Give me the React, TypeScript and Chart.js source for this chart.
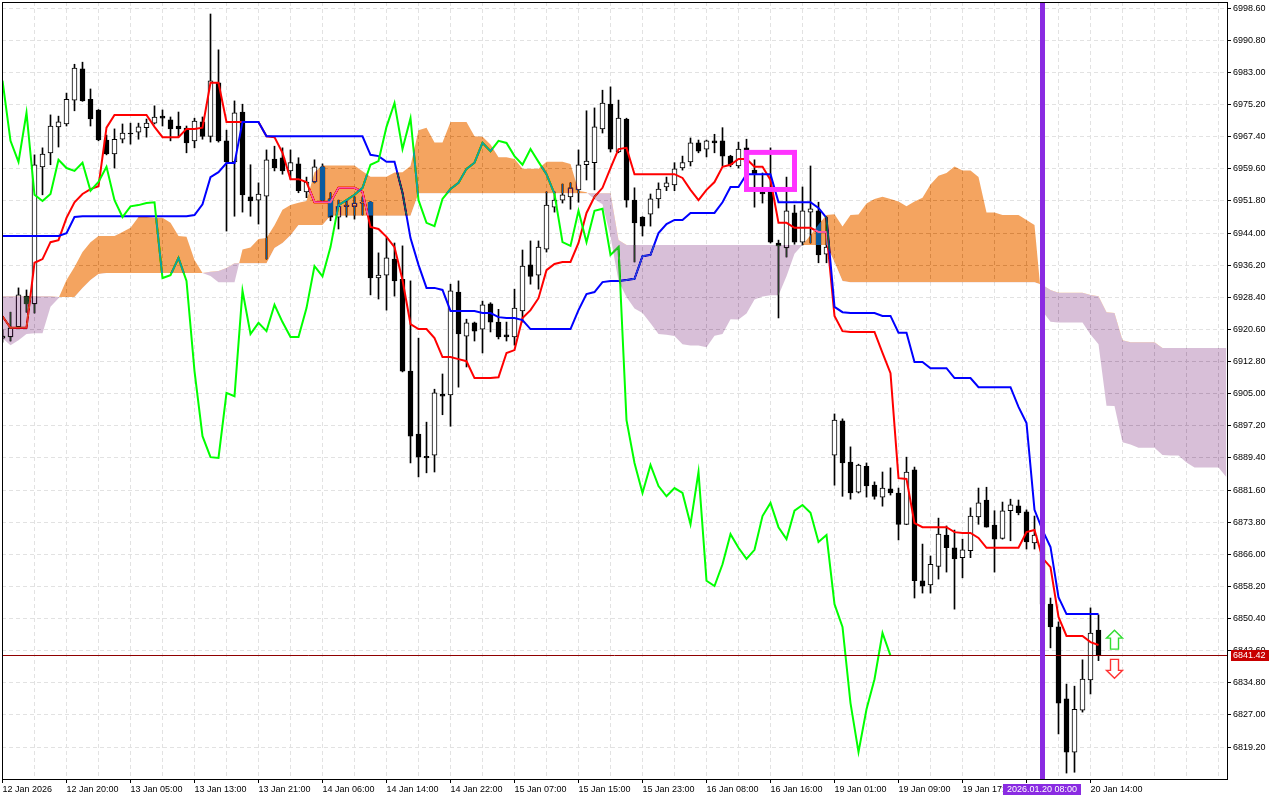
import React, { useEffect, useRef } from "react";
import { Chart, registerables } from "chart.js";

Chart.register(...registerables);

const opens = [
  6918.5, 6918.8, 6921.2, 6928.7, 6926.8, 6960.1, 6963.5, 6969.8, 6970.5, 6976.3,
  6983.9, 6976.5, 6973.9, 6966.6, 6963.2, 6966.8, 6968.3, 6968.5, 6969.6, 6970.7,
  6972.4, 6971.5, 6970.0, 6969.5, 6966.4, 6971.0, 6967.5, 6980.5, 6966.4, 6961.3,
  6973.4, 6952.8, 6952.0, 6953.0, 6962.0, 6962.3, 6959.1, 6960.8, 6954.0, 6956.4,
  6960.1, 6952.3, 6947.9, 6950.5, 6950.5, 6951.3, 6951.5, 6933.1, 6933.8, 6937.7,
  6932.8, 6910.5, 6895.2, 6889.8, 6890.1, 6904.9, 6904.7, 6929.7, 6919.0, 6922.2,
  6920.7, 6926.8, 6922.4, 6919.3, 6918.8, 6925.1, 6936.3, 6933.8, 6940.1, 6950.3,
  6952.0, 6952.8, 6954.5, 6960.6, 6961.1, 6969.3, 6975.3, 6963.7, 6971.7, 6952.0,
  6947.9, 6948.6, 6952.3, 6955.2, 6955.7, 6959.8, 6961.3, 6965.9, 6964.4, 6966.4,
  6966.4, 6962.7, 6960.3, 6964.7, 6959.3, 6954.0, 6954.5, 6941.6, 6940.4, 6948.9,
  6941.8, 6949.1, 6949.4, 6938.9, 6890.1, 6898.4, 6888.4, 6881.1, 6887.4, 6882.8,
  6879.9, 6881.9, 6880.9, 6873.3, 6886.5, 6859.6, 6858.6, 6863.1, 6870.7, 6867.6,
  6865.2, 6866.9, 6875.1, 6879.2, 6873.1, 6869.9, 6876.6, 6877.8, 6876.3, 6868.8,
  6868.8, 6853.9, 6848.4, 6830.9, 6818.0, 6828.2, 6835.5, 6847.6,
];

const highs = [
  6920.5, 6924.8, 6930.7, 6930.2, 6963.0, 6964.7, 6972.7, 6972.4, 6978.0, 6985.0,
  6985.5, 6979.0, 6974.0, 6967.8, 6969.3, 6970.5, 6970.7, 6970.7, 6971.7, 6974.9,
  6973.9, 6972.2, 6973.4, 6970.0, 6971.9, 6972.2, 6997.2, 6988.5, 6969.0, 6976.1,
  6975.3, 6960.6, 6956.2, 6964.2, 6965.1, 6964.7, 6964.2, 6962.3, 6957.6, 6961.8,
  6960.8, 6953.8, 6952.0, 6951.8, 6952.8, 6952.8, 6951.7, 6939.2, 6942.9, 6941.6,
  6940.9, 6932.4, 6918.5, 6898.1, 6906.1, 6909.8, 6931.6, 6932.4, 6923.1, 6922.4,
  6927.5, 6927.1, 6925.5, 6922.4, 6930.4, 6939.9, 6942.1, 6942.1, 6954.0, 6954.0,
  6955.9, 6956.2, 6964.2, 6973.7, 6974.4, 6978.7, 6979.5, 6976.3, 6971.9, 6955.0,
  6948.0, 6953.5, 6956.2, 6957.6, 6961.1, 6962.7, 6967.1, 6966.6, 6966.6, 6968.0,
  6969.6, 6962.9, 6966.1, 6966.8, 6961.8, 6958.6, 6964.7, 6942.3, 6957.6, 6950.8,
  6955.2, 6960.3, 6951.5, 6947.9, 6900.1, 6898.9, 6892.1, 6887.9, 6888.2, 6883.6,
  6886.0, 6887.0, 6882.1, 6889.6, 6887.2, 6868.5, 6865.6, 6874.8, 6872.9, 6871.9,
  6869.7, 6877.3, 6882.1, 6882.3, 6876.6, 6878.7, 6879.4, 6879.2, 6876.8, 6875.3,
  6870.0, 6855.4, 6849.6, 6834.5, 6834.0, 6840.4, 6853.0, 6851.3,
];

const lows = [
  6917.5, 6917.8, 6921.0, 6924.8, 6924.6, 6953.3, 6960.6, 6964.9, 6970.0, 6973.7,
  6976.0, 6970.0, 6966.4, 6963.0, 6959.8, 6965.9, 6965.6, 6966.8, 6967.3, 6970.5,
  6970.0, 6966.4, 6967.3, 6963.5, 6964.7, 6966.8, 6966.1, 6966.1, 6944.5, 6948.1,
  6949.1, 6948.1, 6946.2, 6937.7, 6959.1, 6958.3, 6957.1, 6953.8, 6952.6, 6956.2,
  6951.8, 6947.0, 6945.0, 6947.9, 6947.4, 6948.4, 6929.0, 6928.0, 6925.3, 6928.7,
  6910.3, 6888.2, 6884.8, 6885.8, 6886.0, 6899.9, 6897.1, 6906.6, 6911.5, 6917.8,
  6914.9, 6920.0, 6918.3, 6917.8, 6916.8, 6922.4, 6931.6, 6930.4, 6939.4, 6949.1,
  6951.3, 6949.8, 6951.5, 6956.9, 6954.5, 6968.3, 6963.7, 6963.5, 6950.3, 6937.0,
  6943.3, 6945.7, 6950.1, 6954.3, 6954.3, 6959.3, 6960.3, 6963.5, 6962.5, 6963.5,
  6960.3, 6960.1, 6959.8, 6961.1, 6950.3, 6951.3, 6941.6, 6923.4, 6938.2, 6941.3,
  6941.1, 6941.6, 6936.8, 6936.8, 6882.8, 6880.1, 6879.4, 6880.9, 6879.9, 6879.4,
  6877.7, 6880.4, 6869.5, 6873.2, 6855.4, 6856.6, 6856.6, 6860.0, 6861.7, 6852.7,
  6860.3, 6865.2, 6873.3, 6872.6, 6861.7, 6869.7, 6869.3, 6875.6, 6867.3, 6867.3,
  6853.5, 6843.3, 6822.4, 6812.9, 6813.1, 6827.7, 6832.1, 6840.2,
];

const closes = [
  6919.0, 6921.0, 6929.0, 6926.8, 6960.6, 6963.2, 6970.0, 6971.0, 6976.5, 6984.1,
  6976.1, 6971.7, 6966.6, 6963.2, 6966.8, 6968.3, 6968.1, 6969.8, 6970.7, 6972.2,
  6971.9, 6969.3, 6969.3, 6965.9, 6971.2, 6967.5, 6981.0, 6966.4, 6961.3, 6973.2,
  6953.3, 6951.8, 6953.5, 6961.8, 6959.8, 6959.1, 6961.1, 6954.3, 6956.4, 6960.1,
  6952.0, 6947.9, 6950.5, 6950.8, 6951.3, 6951.5, 6933.1, 6933.8, 6938.0, 6932.4,
  6910.5, 6894.7, 6889.6, 6889.4, 6905.2, 6904.4, 6930.0, 6919.5, 6922.2, 6920.2,
  6926.6, 6922.4, 6918.8, 6918.8, 6925.8, 6936.0, 6933.5, 6940.6, 6950.8, 6952.0,
  6953.3, 6955.0, 6960.6, 6961.5, 6969.8, 6975.6, 6964.4, 6971.9, 6952.0, 6946.5,
  6945.7, 6952.3, 6954.7, 6956.2, 6959.6, 6961.1, 6965.9, 6963.9, 6966.4, 6965.9,
  6962.7, 6960.6, 6964.4, 6961.3, 6958.3, 6953.5, 6941.8, 6940.9, 6949.4, 6941.8,
  6949.4, 6949.9, 6938.7, 6940.6, 6898.6, 6888.2, 6880.9, 6887.7, 6882.6, 6880.1,
  6882.1, 6880.9, 6873.3, 6886.0, 6859.6, 6858.3, 6863.6, 6870.9, 6867.6, 6864.9,
  6867.1, 6875.3, 6878.5, 6872.6, 6869.7, 6876.6, 6878.0, 6876.1, 6869.0, 6870.7,
  6853.9, 6848.4, 6829.9, 6818.0, 6828.4, 6835.7, 6846.9, 6841.42,
];

const tenkan = [
  6923.8, 6921.0, 6921.0, 6921.0, 6936.8, 6937.7, 6941.8, 6942.3, 6947.7, 6951.5,
  6953.5, 6954.7, 6955.4, 6969.6, 6972.7, 6972.7, 6972.7, 6972.7, 6972.7, 6969.8,
  6967.3, 6967.3, 6967.3, 6969.3, 6969.3, 6969.6, 6980.5, 6980.5, 6971.0, 6971.0,
  6971.0, 6971.0, 6971.0, 6967.5, 6967.3, 6963.5, 6957.1, 6957.1, 6956.4, 6951.5,
  6951.5, 6951.5, 6955.0, 6955.0, 6955.0, 6954.0, 6945.5, 6945.0, 6943.1, 6940.6,
  6932.6, 6921.9, 6920.7, 6920.7, 6918.5, 6913.9, 6913.9, 6913.4, 6912.9, 6908.8,
  6908.8, 6908.8, 6909.0, 6914.9, 6915.6, 6923.4, 6925.3, 6928.2, 6935.0, 6936.5,
  6937.0, 6937.0, 6941.6, 6948.9, 6952.8, 6955.0, 6959.8, 6964.4, 6964.7, 6958.3,
  6958.3, 6958.3, 6958.3, 6958.3, 6958.3, 6957.4, 6954.5, 6952.0, 6954.5, 6956.4,
  6960.1, 6960.6, 6962.0, 6962.0, 6960.1, 6960.1, 6956.9, 6946.5, 6946.5, 6945.3,
  6945.3, 6945.3, 6944.3, 6944.3, 6923.9, 6920.2, 6920.0, 6920.0, 6920.0, 6920.0,
  6914.9, 6910.0, 6884.5, 6884.3, 6873.6, 6872.6, 6872.6, 6872.6, 6872.6, 6871.4,
  6871.2, 6871.2, 6870.0, 6867.6, 6867.6, 6867.6, 6867.6, 6867.6, 6871.4, 6871.9,
  6865.1, 6862.9, 6850.8, 6846.2, 6846.2, 6846.2, 6844.7, 6844.0,
];

const kijun = [
  6943.3, 6943.3, 6943.3, 6943.3, 6943.3, 6943.3, 6943.3, 6943.3, 6944.0, 6947.9,
  6948.1, 6948.1, 6948.1, 6948.1, 6948.1, 6948.1, 6948.1, 6948.1, 6948.1, 6948.1,
  6948.1, 6948.1, 6948.1, 6948.1, 6948.4, 6951.0, 6957.6, 6958.8, 6961.0, 6961.0,
  6971.0, 6971.0, 6971.0, 6967.5, 6967.5, 6967.5, 6967.5, 6967.5, 6967.5, 6967.5,
  6967.5, 6967.5, 6967.5, 6967.5, 6967.5, 6967.5, 6963.0, 6962.7, 6961.3, 6961.3,
  6953.8, 6942.8, 6936.3, 6930.7, 6930.7, 6930.2, 6925.1, 6925.1, 6925.1, 6925.1,
  6924.6, 6924.6, 6923.6, 6923.4, 6923.4, 6922.9, 6920.7, 6920.7, 6920.7, 6920.7,
  6920.7, 6920.7, 6925.3, 6929.2, 6929.7, 6932.1, 6932.4, 6932.4, 6932.6, 6932.9,
  6938.4, 6938.7, 6944.0, 6946.2, 6947.2, 6947.2, 6948.9, 6948.9, 6948.9, 6948.9,
  6951.5, 6955.2, 6955.2, 6958.3, 6958.3, 6958.3, 6958.3, 6951.5, 6951.5, 6951.5,
  6951.5, 6951.5, 6950.1, 6947.7, 6926.1, 6924.8, 6924.6, 6924.6, 6924.6, 6924.6,
  6923.9, 6923.9, 6919.8, 6919.8, 6912.7, 6912.7, 6911.2, 6911.2, 6911.2, 6908.8,
  6908.8, 6908.8, 6906.6, 6906.6, 6906.6, 6906.6, 6906.6, 6901.8, 6897.9, 6876.8,
  6871.9, 6867.8, 6855.6, 6851.5, 6851.5, 6851.5, 6851.5, 6851.5,
];

const chikou = [
  6981.0, 6966.4, 6961.3, 6973.2,
  6953.3, 6951.8, 6953.5, 6961.8, 6959.8, 6959.1, 6961.1, 6954.3, 6956.4, 6960.1,
  6952.0, 6947.9, 6950.5, 6950.8, 6951.3, 6951.5, 6933.1, 6933.8, 6938.0, 6932.4,
  6910.5, 6894.7, 6889.6, 6889.4, 6905.2, 6904.4, 6930.0, 6919.5, 6922.2, 6920.2,
  6926.6, 6922.4, 6918.8, 6918.8, 6925.8, 6936.0, 6933.5, 6940.6, 6950.8, 6952.0,
  6953.3, 6955.0, 6960.6, 6961.5, 6969.8, 6975.6, 6964.4, 6971.9, 6952.0, 6946.5,
  6945.7, 6952.3, 6954.7, 6956.2, 6959.6, 6961.1, 6965.9, 6963.9, 6966.4, 6965.9,
  6962.7, 6960.6, 6964.4, 6961.3, 6958.3, 6953.5, 6941.8, 6940.9, 6949.4, 6941.8,
  6949.4, 6949.9, 6938.7, 6940.6, 6898.6, 6888.2, 6880.9, 6887.7, 6882.6, 6880.1,
  6882.1, 6880.9, 6873.3, 6886.0, 6859.6, 6858.3, 6863.6, 6870.9, 6867.6, 6864.9,
  6867.1, 6875.3, 6878.5, 6872.6, 6869.7, 6876.6, 6878.0, 6876.1, 6869.0, 6870.7,
  6853.9, 6848.4, 6829.9, 6818.0, 6828.4, 6835.7, 6846.9, 6841.42,
];

const senkouA = [
  6918.5, 6916.8, 6918.0, 6919.5, 6919.7, 6919.7, 6926.1, 6928.2, 6932.6, 6935.8,
  6939.4, 6941.8, 6943.3, 6943.3, 6943.3, 6944.3, 6945.3, 6947.9, 6947.9, 6947.7,
  6947.7, 6946.5, 6943.3, 6943.1, 6937.5, 6934.3, 6933.6, 6932.1, 6932.1, 6932.1,
  6940.0, 6940.5, 6942.6, 6942.8, 6945.9, 6949.7, 6950.8, 6951.4, 6951.8, 6958.8,
  6960.4, 6960.4, 6960.4, 6960.4, 6960.4, 6959.0, 6957.7, 6957.7, 6957.7, 6958.7,
  6958.8, 6960.3, 6969.0, 6969.6, 6966.0, 6966.0, 6971.0, 6971.0, 6971.0, 6967.5,
  6967.4, 6965.5, 6962.4, 6962.4, 6962.0, 6959.6, 6959.6, 6959.6, 6961.3, 6961.3,
  6961.3, 6960.8, 6954.3, 6953.9, 6952.2, 6951.0, 6943.2, 6932.4, 6928.5, 6925.7,
  6924.6, 6922.1, 6919.5, 6919.3, 6919.0, 6917.0, 6916.7, 6916.7, 6916.3, 6919.1,
  6919.5, 6923.1, 6923.0, 6924.5, 6927.9, 6928.6, 6928.9, 6928.9, 6933.5, 6939.0,
  6941.2, 6943.5, 6946.1, 6948.4, 6948.6, 6945.6, 6948.4, 6948.5, 6951.2, 6952.3,
  6952.8, 6952.3, 6951.7, 6950.5, 6951.7, 6952.6, 6955.8, 6957.9, 6958.6, 6960.2,
  6959.2, 6959.2, 6957.6, 6949.0, 6949.0, 6948.4, 6948.4, 6948.4, 6947.2, 6946.0,
  6925.0, 6922.5, 6922.3, 6922.3, 6922.3, 6922.3, 6919.4, 6917.0, 6902.1, 6902.0,
  6893.2, 6892.7, 6891.9, 6891.9, 6891.9, 6890.1, 6890.0, 6890.0, 6888.3, 6887.1,
  6887.1, 6887.1, 6887.1, 6884.7,
];

const senkouB = [
  6928.7, 6928.7, 6928.7, 6928.7, 6928.7, 6928.7, 6928.7, 6928.5, 6928.5, 6928.5,
  6930.7, 6932.6, 6934.1, 6934.3, 6934.3, 6934.3, 6934.3, 6934.3, 6934.3, 6934.3,
  6934.3, 6934.3, 6934.3, 6934.3, 6934.3, 6934.3, 6934.6, 6934.8, 6935.5, 6936.7,
  6936.7, 6936.7, 6936.7, 6936.7, 6940.4, 6941.6, 6943.5, 6946.0, 6946.0, 6946.0,
  6946.0, 6948.2, 6948.2, 6948.2, 6948.2, 6948.2, 6948.2, 6948.2, 6948.2, 6948.2,
  6948.2, 6948.2, 6953.7, 6953.7, 6953.7, 6953.7, 6953.7, 6953.7, 6953.7, 6953.7,
  6953.7, 6953.7, 6953.7, 6953.7, 6953.7, 6953.7, 6953.7, 6953.7, 6953.7, 6953.7,
  6953.7, 6953.7, 6953.7, 6953.7, 6953.7, 6953.7, 6953.7, 6942.3, 6941.1, 6941.1,
  6941.1, 6941.1, 6941.1, 6941.1, 6941.1, 6941.1, 6941.1, 6941.1, 6941.1, 6941.1,
  6941.1, 6941.1, 6941.1, 6941.1, 6941.1, 6941.1, 6941.1, 6941.1, 6941.1, 6941.1,
  6941.1, 6941.1, 6941.1, 6941.1, 6937.0, 6932.4, 6932.1, 6932.1, 6932.1, 6932.1,
  6932.1, 6932.1, 6932.1, 6932.1, 6932.1, 6932.1, 6932.1, 6932.1, 6932.1, 6932.1,
  6932.1, 6932.1, 6932.1, 6932.1, 6932.1, 6932.1, 6932.1, 6932.1, 6932.1, 6932.1,
  6931.4, 6930.2, 6929.5, 6929.5, 6929.5, 6929.5, 6929.0, 6928.7, 6924.8, 6924.6,
  6918.0, 6917.5, 6917.5, 6917.5, 6917.5, 6916.1, 6916.1, 6916.1, 6916.1, 6916.1,
  6916.1, 6916.1, 6916.1, 6916.1,
];

const priceTicks = [
  6998.6, 6990.8, 6983.0, 6975.2, 6967.4, 6959.6, 6951.8, 6944.0, 6936.2, 6928.4, 6920.6, 6912.8,
  6905.0, 6897.2, 6889.4, 6881.6, 6873.8, 6866.0, 6858.2, 6850.4, 6842.6, 6834.8, 6827.0, 6819.2,
];

const timeTickIndex = [0, 8, 16, 24, 32, 40, 48, 56, 64, 72, 80, 88, 96, 104, 112, 120, 128, 136];
const timeTickLabels = [
  "12 Jan 2026", "12 Jan 20:00", "13 Jan 05:00", "13 Jan 13:00", "13 Jan 21:00", "14 Jan 06:00",
  "14 Jan 14:00", "14 Jan 22:00", "15 Jan 07:00", "15 Jan 15:00", "15 Jan 23:00", "16 Jan 08:00",
  "16 Jan 16:00", "19 Jan 01:00", "19 Jan 09:00", "19 Jan 17:00", "", "20 Jan 14:00",
];

const lastPrice = 6841.42;
const markerIndex = 130;
const markerLabel = "2026.01.20 08:00";
const boxStart = 93;
const boxEnd = 99;
const boxHigh = 6963.6;
const boxLow = 6954.6;
const arrowIndex = 139;
const upArrowPrice = 6847.6;
const downArrowPrice = 6835.9;

const FONT_FAMILY = "'Liberation Sans', sans-serif";
const FONT_SIZE = 9;
const FONT = `${FONT_SIZE}px ${FONT_FAMILY}`;

const points = (values: number[], start = 0) => values.map((y, i) => ({ x: i + start, y }));

const drawArrow = (ctx: CanvasRenderingContext2D, x: number, y: number, dir: number, color: string) => {
  // y is the tip, dir = 1 points up, -1 points down
  ctx.beginPath();
  ctx.moveTo(x, y);
  ctx.lineTo(x + 8, y + dir * 8);
  ctx.lineTo(x + 4, y + dir * 8);
  ctx.lineTo(x + 4, y + dir * 19);
  ctx.lineTo(x - 4, y + dir * 19);
  ctx.lineTo(x - 4, y + dir * 8);
  ctx.lineTo(x - 8, y + dir * 8);
  ctx.closePath();
  ctx.fillStyle = "#ffffff";
  ctx.fill();
  ctx.lineWidth = 1.4;
  ctx.strokeStyle = color;
  ctx.stroke();
};

const overlayPlugin = {
  id: "overlay",
  beforeDraw(chart: any) {
    // difference blending needs an opaque page under it
    chart.ctx.save();
    chart.ctx.fillStyle = "#ffffff";
    chart.ctx.fillRect(0, 0, chart.width, chart.height);
    chart.ctx.restore();
  },
  afterDatasetDraw(chart: any, args: any) {
    // the cloud is an XOR style fill in the terminal, so it goes over everything below it
    if (chart.data.datasets[args.index].label === "Chikou") {
      chart.ctx.globalCompositeOperation = "difference";
    }
  },
  afterDatasetsDraw(chart: any) {
    const ctx = chart.ctx;
    ctx.globalCompositeOperation = "source-over";
    const { x, y } = chart.scales;
    const area = chart.chartArea;

    ctx.save();
    const priceY = Math.floor(y.getPixelForValue(lastPrice)) + 0.5;
    ctx.strokeStyle = "#900000";
    ctx.lineWidth = 1;
    ctx.beginPath();
    ctx.moveTo(area.left, priceY);
    ctx.lineTo(area.right, priceY);
    ctx.stroke();

    const markerX = x.getPixelForValue(markerIndex);
    ctx.fillStyle = "#8a2be2";
    ctx.fillRect(markerX - 2.5, area.top, 5, area.bottom - area.top);

    const bx1 = x.getPixelForValue(boxStart);
    const bx2 = x.getPixelForValue(boxEnd);
    const by1 = y.getPixelForValue(boxHigh);
    const by2 = y.getPixelForValue(boxLow);
    ctx.strokeStyle = "#ff33ff";
    ctx.lineWidth = 5;
    ctx.strokeRect(bx1, by1, bx2 - bx1, by2 - by1);

    const arrowX = x.getPixelForValue(arrowIndex);
    drawArrow(ctx, arrowX, y.getPixelForValue(upArrowPrice), 1, "#33dd33");
    drawArrow(ctx, arrowX, y.getPixelForValue(downArrowPrice), -1, "#ff3333");
    ctx.restore();
  },
  afterDraw(chart: any) {
    const ctx = chart.ctx;
    const { x, y } = chart.scales;
    const area = chart.chartArea;
    ctx.save();
    ctx.strokeStyle = "#000000";
    ctx.lineWidth = 1;
    ctx.strokeRect(area.left + 0.5, area.top + 0.5, area.right - area.left, area.bottom - area.top);

    ctx.font = FONT;
    ctx.textBaseline = "middle";

    // current price tag on the axis
    const priceY = Math.floor(y.getPixelForValue(lastPrice)) + 0.5;
    ctx.fillStyle = "#c80000";
    ctx.fillRect(area.right + 4, priceY - 5.5, 38, 11);
    ctx.fillStyle = "#ffffff";
    ctx.textAlign = "left";
    ctx.fillText(lastPrice.toFixed(2), area.right + 6, priceY + 0.5);

    // marker date tag on the time axis
    const markerX = x.getPixelForValue(markerIndex);
    ctx.fillStyle = "#8a2be2";
    ctx.fillRect(markerX - 39.5, area.bottom + 5, 78, 11);
    ctx.fillStyle = "#ffffff";
    ctx.textAlign = "center";
    ctx.fillText(markerLabel, markerX - 0.5, area.bottom + 11);
    ctx.restore();
  },
};

const App: React.FC = () => {
  const chartRef = useRef<HTMLCanvasElement>(null);

  useEffect(() => {
    if (!chartRef.current) return;
    const chart = new Chart(chartRef.current, {
      type: "bar",
      data: {
        datasets: [
          {
            label: "Wicks",
            data: lows.map((low, i) => ({ x: i, y: [low, highs[i]] })),
            backgroundColor: "#000000",
            barThickness: 1,
            grouped: false,
            order: 7,
          },
          {
            label: "Bodies",
            data: opens.map((open, i) => ({ x: i, y: [open, closes[i]] })),
            backgroundColor: opens.map((open, i) => (closes[i] >= open ? "#ffffff" : "#000000")),
            borderColor: "#000000",
            borderWidth: 1,
            borderSkipped: false,
            barThickness: 5,
            grouped: false,
            order: 6,
          },
          {
            type: "line",
            label: "Tenkan",
            data: points(tenkan),
            borderColor: "#ff0000",
            borderWidth: 2,
            pointRadius: 0,
            tension: 0,
            order: 5,
          },
          {
            type: "line",
            label: "Kijun",
            data: points(kijun),
            borderColor: "#0000ff",
            borderWidth: 2,
            pointRadius: 0,
            tension: 0,
            order: 4,
          },
          {
            type: "line",
            label: "Chikou",
            data: points(chikou),
            borderColor: "#00ff00",
            borderWidth: 2,
            pointRadius: 0,
            tension: 0,
            order: 3,
          },
          {
            type: "line",
            label: "Senkou A",
            data: points(senkouA),
            borderColor: "transparent",
            borderWidth: 0,
            pointRadius: 0,
            tension: 0,
            fill: { target: "+1", above: "#0b5b9f", below: "#274027" },
            order: 2,
          },
          {
            type: "line",
            label: "Senkou B",
            data: points(senkouB),
            borderColor: "transparent",
            borderWidth: 0,
            pointRadius: 0,
            tension: 0,
            order: 1,
          },
        ] as any,
      },
      options: {
        responsive: false,
        animation: false,
        devicePixelRatio: 1,
        layout: { autoPadding: false, padding: { left: 2, top: 2, right: 0, bottom: 0 } },
        plugins: { legend: { display: false }, tooltip: { enabled: false } },
        events: [],
        scales: {
          x: {
            type: "linear",
            offset: false,
            min: -0.0625,
            max: 153.0625,
            afterBuildTicks: (scale: any) => {
              const ticks = [];
              for (let v = 0; v <= 152; v += 4) ticks.push({ value: v });
              scale.ticks = ticks;
            },
            afterFit: (scale: any) => {
              scale.height = 21;
              scale.paddingLeft = 0;
              scale.paddingRight = 0;
            },
            border: { display: false, dash: [4, 3] },
            grid: {
              offset: false,
              color: "#e2e2e2",
              tickLength: 4,
              tickColor: (ctx: any) =>
                ctx.tick && timeTickIndex.includes(ctx.tick.value) ? "#000000" : "rgba(0,0,0,0)",
            },
            ticks: {
              autoSkip: false,
              maxRotation: 0,
              minRotation: 0,
              align: "start",
              padding: 1,
              color: "#000000",
              font: { family: FONT_FAMILY, size: FONT_SIZE },
              callback: (value: any) => {
                const at = timeTickIndex.indexOf(Number(value));
                return at >= 0 ? timeTickLabels[at] : "";
              },
            },
          },
          y: {
            type: "linear",
            position: "right",
            beginAtZero: false,
            min: 6811.46,
            max: 7000.114,
            afterBuildTicks: (scale: any) => {
              scale.ticks = priceTicks.map((value) => ({ value }));
            },
            afterFit: (scale: any) => {
              scale.width = 53;
              scale.paddingTop = 0;
              scale.paddingBottom = 0;
            },
            border: { display: false, dash: [4, 3] },
            grid: { color: "#e2e2e2", tickLength: 4, tickColor: "#000000" },
            ticks: {
              autoSkip: false,
              padding: 2,
              color: "#000000",
              font: { family: FONT_FAMILY, size: FONT_SIZE },
              callback: (value: any) => Number(value).toFixed(2),
            },
          },
        },
      } as any,
      plugins: [overlayPlugin],
    });

    return () => {
      chart.destroy();
    };
  }, []);

  return (
    <div style={{ position: "fixed", left: 0, top: 0, width: 1280, height: 800, background: "#ffffff" }}>
      <canvas ref={chartRef} width={1280} height={800} style={{ display: "block" }} />
    </div>
  );
};

export default App;
